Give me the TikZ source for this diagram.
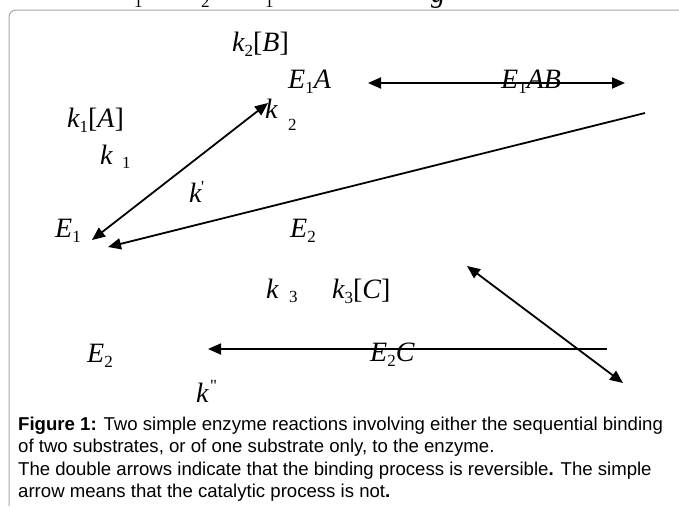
\documentclass[tikz,border=0pt]{standalone}
\usepackage{fontspec}
\setmainfont{Liberation Serif}
\newfontfamily\capfont{Liberation Sans}
\usetikzlibrary{arrows.meta}
\newcommand{\sbs}[1]{\raisebox{-5pt}{\fontsize{17}{19}\selectfont\upshape #1}}
\newcommand{\iv}[1]{{\itshape #1}}
\tikzset{
  lab/.style={anchor=base west, inner sep=0pt, font=\fontsize{28}{32}\selectfont},
  subtxt/.style={anchor=base west, inner sep=0pt, font=\fontsize{17}{19}\selectfont},
  captext/.style={anchor=base west, inner sep=0pt, font=\capfont\fontsize{18.6}{22}\selectfont},
  dbl/.style={line width=1.8pt, {Triangle[length=13pt,width=11pt]}-{Triangle[length=13pt,width=11pt]}},
  sgl/.style={line width=1.8pt, -{Triangle[length=13pt,width=11pt]}},
  framestyle/.style={draw=black!35, line width=1pt, rounded corners=7pt}
}
\begin{document}
\begin{tikzpicture}[x=1pt,y=-1pt]
\useasboundingbox[fill=white] (0,0) rectangle (679,506);
% clipped fragments of text above
\begin{scope}
\clip (0,0) rectangle (679,506);
\node[subtxt] (f1) at (134,7) {1};
\node[subtxt] (f2) at (201,7) {2};
\node[subtxt] (f3) at (265,7) {1};
\node[lab] (f4) at (431,2) {\iv{g}};
\end{scope}
% frame
\draw[framestyle] (9,506) -- (9,10) -- (679,10);
% labels
\node[lab] (k2B) at (232,51) {\iv{k}\sbs{2}[\iv{B}]};
\node[lab] (E1A) at (288,88) {\iv{E}\sbs{1}\iv{A}};
\node[lab] (E1AB) at (501,88) {\iv{E}\sbs{1}\iv{AB}};
\node[lab] (k1A) at (67,127) {\iv{k}\sbs{1}[\iv{A}]};
\node[lab] (km2) at (265,118) {\iv{k}};
\node[subtxt] (km2s) at (288,130) {2};
\node[lab] (km1) at (100,164) {\iv{k}};
\node[subtxt] (km1s) at (122,168) {1};
\node[lab] (kp) at (189,202) {\iv{k}};
\node[subtxt] (kps) at (201,192) {\textquotesingle};
\node[lab] (E1) at (55,237) {\iv{E}\sbs{1}};
\node[lab] (E2m) at (290,237) {\iv{E}\sbs{2}};
\node[lab] (km3) at (266,298) {\iv{k}};
\node[subtxt] (km3s) at (289,302) {3};
\node[lab] (k3C) at (332,298) {\iv{k}\sbs{3}[\iv{C}]};
\node[lab] (E2) at (87,362) {\iv{E}\sbs{2}};
\node[lab] (E2C) at (370,361) {\iv{E}\sbs{2}\iv{C}};
\node[lab] (kpp) at (196,402) {\iv{k}};
\node[subtxt] (kpps) at (210,391) {\textquotedbl};
% arrow ends
\coordinate (a1) at (92,240);
\coordinate (a2) at (268,103);
\coordinate (b1) at (368,83);
\coordinate (b2) at (625,83);
\coordinate (c1) at (645,113);
\coordinate (c2) at (108,247);
\coordinate (d1) at (467,266);
\coordinate (d2) at (623,383);
\coordinate (e1) at (607,349);
\coordinate (e2) at (208,349);
\draw[dbl] (a1) -- (a2);
\draw[dbl] (b1) -- (b2);
\draw[sgl] (c1) -- (c2);
\draw[dbl] (d1) -- (d2);
\draw[sgl] (e1) -- (e2);
% caption
\node[captext] (cap1) at (18,430) {\textbf{Figure 1:} Two simple enzyme reactions involving either the sequential binding};
\node[captext] (cap2) at (18,452.5) {of two substrates, or of one substrate only, to the enzyme.};
\node[captext] (cap3) at (18,475) {The double arrows indicate that the binding process is reversible\textbf{.} The simple};
\node[captext] (cap4) at (18,497.5) {arrow means that the catalytic process is not\textbf{.}};
\end{tikzpicture}
\end{document}
